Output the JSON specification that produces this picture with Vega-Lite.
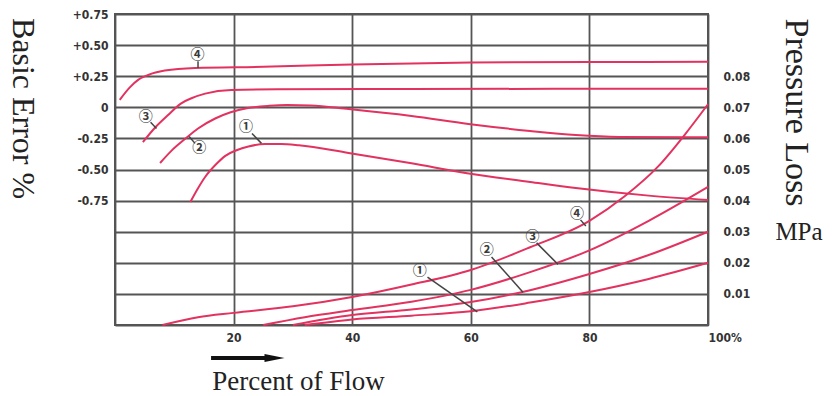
{
  "$schema": "https://vega.github.io/schema/vega-lite/v6.json",
  "width": 593,
  "height": 311,
  "autosize": {"type": "none"},
  "padding": {"left": 115, "top": 14, "right": 129, "bottom": 71},
  "background": "white",
  "config": {
    "view": {"stroke": "#555555", "strokeWidth": 2},
    "axis": {"labelFont": "Liberation Sans Narrow, DejaVu Sans Condensed, Arial Narrow, sans-serif", "labelFontSize": 12, "labelFontWeight": "bold", "labelColor": "#333333", "labelOverlap": false, "ticks": false, "domain": false, "gridColor": "#555555", "gridWidth": 1.8, "gridOpacity": 1, "titleFont": "Liberation Serif", "titleFontWeight": "normal", "titleColor": "#222222"}
  },
  "datasets": {
    "err": [
      {"curve": "4", "x": 0.8, "e": 0.06}, {"curve": "4", "x": 2.5, "e": 0.16}, {"curve": "4", "x": 3.9, "e": 0.22}, {"curve": "4", "x": 5.6, "e": 0.26}, {"curve": "4", "x": 8.4, "e": 0.295}, {"curve": "4", "x": 13.5, "e": 0.316}, {"curve": "4", "x": 25, "e": 0.325}, {"curve": "4", "x": 40, "e": 0.345}, {"curve": "4", "x": 60, "e": 0.36}, {"curve": "4", "x": 80, "e": 0.364}, {"curve": "4", "x": 100, "e": 0.366},
      {"curve": "3", "x": 4.7, "e": -0.28}, {"curve": "3", "x": 6.7, "e": -0.166}, {"curve": "3", "x": 9, "e": -0.06}, {"curve": "3", "x": 11.1, "e": 0.03}, {"curve": "3", "x": 13, "e": 0.075}, {"curve": "3", "x": 15.2, "e": 0.11}, {"curve": "3", "x": 19.6, "e": 0.14}, {"curve": "3", "x": 27.5, "e": 0.145}, {"curve": "3", "x": 50, "e": 0.147}, {"curve": "3", "x": 100, "e": 0.15},
      {"curve": "2", "x": 7.6, "e": -0.448}, {"curve": "2", "x": 9.5, "e": -0.35}, {"curve": "2", "x": 11.8, "e": -0.255}, {"curve": "2", "x": 14, "e": -0.17}, {"curve": "2", "x": 16.9, "e": -0.09}, {"curve": "2", "x": 19.5, "e": -0.04}, {"curve": "2", "x": 22.4, "e": -0.006}, {"curve": "2", "x": 26, "e": 0.012}, {"curve": "2", "x": 29, "e": 0.018}, {"curve": "2", "x": 33, "e": 0.015}, {"curve": "2", "x": 39.4, "e": -0.014}, {"curve": "2", "x": 50, "e": -0.07}, {"curve": "2", "x": 59.6, "e": -0.134}, {"curve": "2", "x": 70, "e": -0.19}, {"curve": "2", "x": 77.7, "e": -0.223}, {"curve": "2", "x": 85, "e": -0.238}, {"curve": "2", "x": 100, "e": -0.24},
      {"curve": "1", "x": 12.7, "e": -0.761}, {"curve": "1", "x": 14, "e": -0.65}, {"curve": "1", "x": 15.2, "e": -0.56}, {"curve": "1", "x": 17, "e": -0.46}, {"curve": "1", "x": 18.6, "e": -0.39}, {"curve": "1", "x": 20.5, "e": -0.345}, {"curve": "1", "x": 22.5, "e": -0.315}, {"curve": "1", "x": 25.3, "e": -0.295}, {"curve": "1", "x": 28, "e": -0.295}, {"curve": "1", "x": 31, "e": -0.305}, {"curve": "1", "x": 39.4, "e": -0.367}, {"curve": "1", "x": 50, "e": -0.45}, {"curve": "1", "x": 59.1, "e": -0.528}, {"curve": "1", "x": 70, "e": -0.6}, {"curve": "1", "x": 77.7, "e": -0.649}, {"curve": "1", "x": 90, "e": -0.71}, {"curve": "1", "x": 100, "e": -0.745}
    ],
    "pl": [
      {"curve": "4", "x": 8, "p": 0}, {"curve": "4", "x": 14, "p": 0.0025}, {"curve": "4", "x": 20, "p": 0.0039}, {"curve": "4", "x": 30, "p": 0.006}, {"curve": "4", "x": 40, "p": 0.009}, {"curve": "4", "x": 50, "p": 0.013}, {"curve": "4", "x": 60, "p": 0.0177}, {"curve": "4", "x": 70, "p": 0.025}, {"curve": "4", "x": 80, "p": 0.0335}, {"curve": "4", "x": 86, "p": 0.0415}, {"curve": "4", "x": 91.6, "p": 0.051}, {"curve": "4", "x": 96, "p": 0.061}, {"curve": "4", "x": 100, "p": 0.071},
      {"curve": "3", "x": 25, "p": 0}, {"curve": "3", "x": 32, "p": 0.0025}, {"curve": "3", "x": 40, "p": 0.0048}, {"curve": "3", "x": 50, "p": 0.0075}, {"curve": "3", "x": 60, "p": 0.0113}, {"curve": "3", "x": 70, "p": 0.017}, {"curve": "3", "x": 80, "p": 0.024}, {"curve": "3", "x": 90, "p": 0.0335}, {"curve": "3", "x": 100, "p": 0.0444},
      {"curve": "2", "x": 30, "p": 0}, {"curve": "2", "x": 40, "p": 0.0032}, {"curve": "2", "x": 50, "p": 0.005}, {"curve": "2", "x": 60, "p": 0.0074}, {"curve": "2", "x": 70, "p": 0.0112}, {"curve": "2", "x": 80, "p": 0.0164}, {"curve": "2", "x": 90, "p": 0.0225}, {"curve": "2", "x": 100, "p": 0.03},
      {"curve": "1", "x": 32, "p": 0}, {"curve": "1", "x": 40, "p": 0.0018}, {"curve": "1", "x": 50, "p": 0.003}, {"curve": "1", "x": 60, "p": 0.0044}, {"curve": "1", "x": 70, "p": 0.0072}, {"curve": "1", "x": 80, "p": 0.0106}, {"curve": "1", "x": 90, "p": 0.0148}, {"curve": "1", "x": 100, "p": 0.02}
    ],
    "errlab": [
      {"label": "④", "x": 13.9, "e": 0.42},
      {"label": "③", "x": 5.2, "e": -0.078},
      {"label": "②", "x": 14.2, "e": -0.327},
      {"label": "①", "x": 22.1, "e": -0.158}
    ],
    "errlead": [
      {"x": 14, "e": 0.37, "x2": 14, "e2": 0.316},
      {"x": 6.0, "e": -0.12, "x2": 7.0, "e2": -0.17},
      {"x": 13.5, "e": -0.29, "x2": 12.5, "e2": -0.235},
      {"x": 23.1, "e": -0.21, "x2": 24.7, "e2": -0.29}
    ],
    "pllab": [
      {"label": "④", "x": 77.9, "p": 0.0357},
      {"label": "③", "x": 70.4, "p": 0.0283},
      {"label": "②", "x": 62.7, "p": 0.0241},
      {"label": "①", "x": 51.4, "p": 0.0174}
    ],
    "pllead": [
      {"x": 78.5, "p": 0.0338, "x2": 79.4, "p2": 0.0318},
      {"x": 71.1, "p": 0.0264, "x2": 74.7, "p2": 0.0195},
      {"x": 63.5, "p": 0.0219, "x2": 68.8, "p2": 0.0105},
      {"x": 52.7, "p": 0.0154, "x2": 61.1, "p2": 0.0042}
    ]
  },
  "layer": [
    {
      "layer": [
        {
          "data": {"name": "err"},
          "mark": {"type": "line", "interpolate": "monotone", "color": "#e2325f", "strokeWidth": 2},
          "encoding": {
            "x": {"field": "x", "type": "quantitative", "scale": {"domain": [0, 100], "nice": false},
              "axis": {"values": [0, 20, 40, 60, 80, 100], "tickCount": 20, "grid": true, "labelExpr": "datum.value == 0 ? '' : datum.value == 100 ? '100%' : datum.label", "labelPadding": 7,
                "labelAlign": {"condition": {"test": "datum.value == 100", "value": "left"}, "value": "center"},
                "title": "Percent of Flow", "titleX": 183, "titleY": 64, "titleFontSize": 27, "titleAlign": "center", "titleBaseline": "alphabetic"}},
            "y": {"field": "e", "type": "quantitative", "scale": {"domain": [-1.75, 0.75], "nice": false, "zero": false},
              "axis": {"orient": "left", "values": [-1.75, -1.5, -1.25, -1, -0.75, -0.5, -0.25, 0, 0.25, 0.5, 0.75], "tickCount": 20, "grid": true, "labelPadding": 7,
                "labelExpr": "datum.value < -0.8 ? '' : datum.value > 0 ? '+' + format(datum.value, '.2f') : datum.value == 0 ? '0' : '-' + format(-datum.value, '.2f')",
                "title": "Basic Error %", "titleAngle": 90, "titleX": -93, "titleY": 94, "titleFontSize": 32, "titleAlign": "center", "titleBaseline": "middle"}},
            "detail": {"field": "curve"}
          }
        },
        {
          "data": {"name": "errlead"},
          "mark": {"type": "rule", "color": "#444444", "strokeWidth": 1.5},
          "encoding": {
            "x": {"field": "x", "type": "quantitative"}, "x2": {"field": "x2"},
            "y": {"field": "e", "type": "quantitative"}, "y2": {"field": "e2"}
          }
        },
        {
          "data": {"name": "errlab"},
          "mark": {"type": "text", "font": "Noto Sans CJK SC", "fontSize": 14, "fontWeight": "bold", "color": "#3a3a3a"},
          "encoding": {
            "x": {"field": "x", "type": "quantitative"},
            "y": {"field": "e", "type": "quantitative"},
            "text": {"field": "label"}
          }
        },
        {
          "data": {"values": [{"item": "arrow"}]},
          "mark": {"type": "rule", "color": "#111111", "strokeWidth": 4},
          "encoding": {"x": {"datum": 16.2}, "x2": {"datum": 26}, "y": {"datum": -2.015}}
        },
        {
          "data": {"values": [{"item": "arrowhead"}]},
          "mark": {"type": "point", "shape": "M-1,-0.4L1,0L-1,0.4Z", "filled": true, "size": 400, "color": "#111111", "opacity": 1},
          "encoding": {"x": {"datum": 26.9}, "y": {"datum": -2.015}}
        }
      ]
    },
    {
      "layer": [
        {
          "data": {"name": "pl"},
          "mark": {"type": "line", "interpolate": "monotone", "color": "#e2325f", "strokeWidth": 2},
          "encoding": {
            "x": {"field": "x", "type": "quantitative"},
            "y": {"field": "p", "type": "quantitative", "scale": {"domain": [0, 0.1], "nice": false},
              "axis": {"orient": "right", "values": [0.01, 0.02, 0.03, 0.04, 0.05, 0.06, 0.07, 0.08], "tickCount": 20, "grid": false, "labelPadding": 15,
                "labelExpr": "format(datum.value, '.2f')",
                "title": "Pressure Loss", "titleAngle": 90, "titleX": 87, "titleY": 98, "titleFontSize": 34, "titleAlign": "center", "titleBaseline": "middle"}},
            "detail": {"field": "curve"}
          }
        },
        {
          "data": {"name": "pllead"},
          "mark": {"type": "rule", "color": "#444444", "strokeWidth": 1.5},
          "encoding": {
            "x": {"field": "x", "type": "quantitative"}, "x2": {"field": "x2"},
            "y": {"field": "p", "type": "quantitative"}, "y2": {"field": "p2"}
          }
        },
        {
          "data": {"name": "pllab"},
          "mark": {"type": "text", "font": "Noto Sans CJK SC", "fontSize": 14, "fontWeight": "bold", "color": "#3a3a3a"},
          "encoding": {
            "x": {"field": "x", "type": "quantitative"},
            "y": {"field": "p", "type": "quantitative"},
            "text": {"field": "label"}
          }
        },
        {
          "data": {"values": [{"item": "unit"}]},
          "mark": {"type": "text", "font": "Liberation Serif", "fontSize": 25, "color": "#222222", "dx": 91, "align": "center", "baseline": "middle"},
          "encoding": {"x": {"datum": 100}, "y": {"datum": 0.03}, "text": {"value": "MPa"}}
        }
      ]
    }
  ],
  "resolve": {"scale": {"y": "independent"}, "axis": {"y": "independent"}}
}
